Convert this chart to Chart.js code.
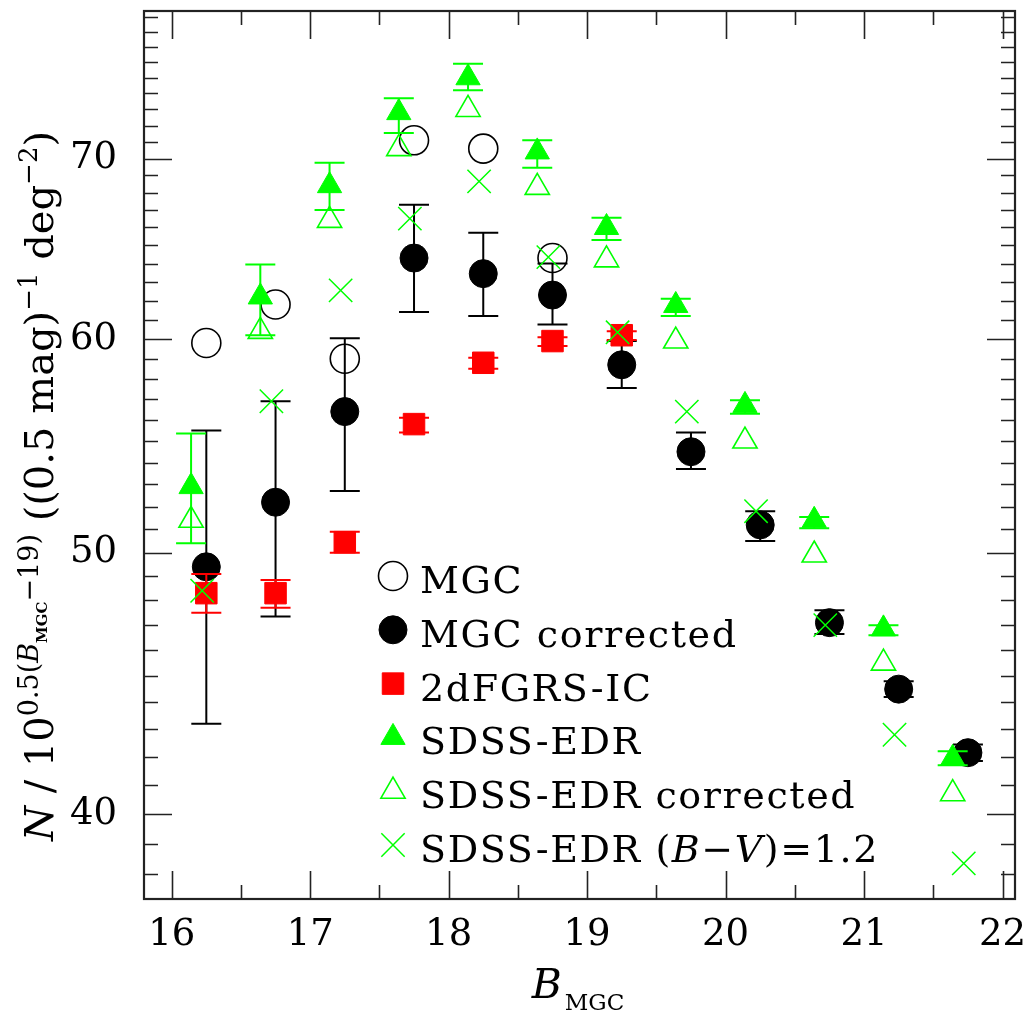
<!DOCTYPE html>
<html>
<head>
<meta charset="utf-8">
<title>Galaxy number counts</title>
<style>
  html, body { margin: 0; padding: 0; background: #fff; }
  canvas { display: block; }
</style>
<script src="https://cdn.jsdelivr.net/npm/chart.js@4.4.1/dist/chart.umd.min.js"></script>
</head>
<body>
<canvas id="counts" width="1030" height="1013"></canvas>
<script>
// ---- data: counts N / 10^{0.5(B-19)} per 0.5 mag bin per deg^2 ----
// bin centres (each survey drawn with a small horizontal offset)
const magMGC  = [16.25, 16.75, 17.25, 17.75, 18.25, 18.75, 19.25, 19.75, 20.25, 20.75, 21.25, 21.75];
const magSDSS = [16.14, 16.64, 17.14, 17.64, 18.14, 18.64, 19.14, 19.64, 20.14, 20.64, 21.14, 21.64];
const magBV   = [16.22, 16.72, 17.22, 17.72, 18.22, 18.72, 19.22, 19.72, 20.22, 20.72, 21.22, 21.72];
const mag2dF  = [16.25, 16.75, 17.25, 17.75, 18.25, 18.75, 19.25];

// MGC, raw counts (bright bins only; fainter bins coincide with the corrected counts)
const mgcRaw = [59.8, 61.8, 59.0, 71.1, 70.6, 64.3];

// MGC corrected, with error range
const mgcCorr   = [49.4, 52.2, 56.4, 64.3, 63.45, 62.3, 58.7, 54.5, 51.2, 47.1, 44.5, 42.15];
const mgcCorrLo = [43.2, 47.35, 52.7, 61.4, 61.2, 60.75, 57.55, 53.7, 50.5, 46.65, 44.2, 41.85];
const mgcCorrHi = [55.5, 56.9, 60.05, 67.3, 65.7, 64.0, 59.9, 55.4, 51.8, 47.6, 44.8, 42.45];

// 2dFGRS input catalogue
const twoDF   = [48.3, 48.3, 50.45, 55.8, 58.8, 59.9, 60.2];
const twoDFLo = [47.5, 47.7, 50.0, 55.4, 58.5, 59.65, 59.95];
const twoDFHi = [49.1, 48.85, 50.9, 56.1, 59.05, 60.1, 60.4];

// SDSS-EDR, with error range
const sdss   = [52.9, 62.2, 68.4, 72.8, 75.0, 70.4, 66.0, 61.75, 56.7, 51.4, 46.85, 41.95];
const sdssLo = [50.4, 60.2, 67.0, 71.55, 74.2, 69.45, 65.3, 61.2, 56.3, 51.05, 46.6, 41.7];
const sdssHi = [55.35, 63.95, 69.75, 73.7, 75.9, 71.1, 66.55, 62.1, 56.95, 51.55, 47.0, 42.2];

// SDSS-EDR corrected
const sdssCorr = [51.4, 60.4, 66.4, 70.6, 73.0, 68.3, 64.2, 59.9, 55.0, 49.9, 45.5, 40.7];

// SDSS-EDR with (B-V) = 1.2
const sdssBV = [48.4, 56.9, 62.55, 66.5, 68.65, 64.35, 60.35, 56.4, 51.8, 47.0, 42.8, 38.35];

// axis ticks
const xTickLabels = [16, 17, 18, 19, 20, 21, 22];
const xMinorTicks = [16.5, 17.5, 18.5, 19.5, 20.5, 21.5];
const yTickLabels = [40, 50, 60, 70];

const SERIF = '"DejaVu Serif", "Liberation Serif", serif';
const GREEN = '#00ff00';
const RED = '#ff0000';
const BLACK = '#000000';

const pts = (xs, ys) => ys.map((v, i) => ({ x: xs[i], y: v }));

const datasets = [
  { label: 'MGC', data: pts(magMGC, mgcRaw), pointStyle: 'circle', pointRadius: 14.5,
    backgroundColor: 'rgba(0,0,0,0)', borderColor: BLACK, borderWidth: 1.6, order: 5 },
  { label: 'MGC corrected', data: pts(magMGC, mgcCorr), pointStyle: 'circle', pointRadius: 14,
    backgroundColor: BLACK, borderColor: BLACK, borderWidth: 1, order: 4,
    errLo: mgcCorrLo, errHi: mgcCorrHi },
  { label: '2dFGRS-IC', data: pts(mag2dF, twoDF), pointStyle: 'rect', pointRadius: 15.2,
    backgroundColor: RED, borderColor: RED, borderWidth: 1, order: 3,
    errLo: twoDFLo, errHi: twoDFHi },
  { label: 'SDSS-EDR', data: pts(magSDSS, sdss), pointStyle: 'triangle', pointRadius: 14,
    backgroundColor: GREEN, borderColor: GREEN, borderWidth: 1, order: 2,
    errLo: sdssLo, errHi: sdssHi },
  { label: 'SDSS-EDR corrected', data: pts(magSDSS, sdssCorr), pointStyle: 'triangle', pointRadius: 14,
    backgroundColor: 'rgba(0,0,0,0)', borderColor: GREEN, borderWidth: 1.6, order: 1 },
  { label: 'SDSS-EDR (B-V)=1.2', data: pts(magBV, sdssBV), pointStyle: 'crossRot', pointRadius: 16.5,
    backgroundColor: GREEN, borderColor: GREEN, borderWidth: 1.5, order: 0 }
];

// vertical error bars with caps, drawn just beneath their own markers
const errorBars = {
  id: 'errorBars',
  beforeDatasetDraw(chart, args) {
    const ds = chart.data.datasets[args.index];
    if (!ds.errLo) return;
    const { ctx, scales: { x, y } } = chart;
    const cap = 15;
    ctx.save();
    ctx.strokeStyle = ds.borderColor;
    ctx.lineWidth = 2;
    ds.data.forEach((p, i) => {
      const px = x.getPixelForValue(p.x);
      const yl = y.getPixelForValue(ds.errLo[i]);
      const yh = y.getPixelForValue(ds.errHi[i]);
      ctx.beginPath();
      ctx.moveTo(px, yl); ctx.lineTo(px, yh);
      ctx.moveTo(px - cap, yl); ctx.lineTo(px + cap, yl);
      ctx.moveTo(px - cap, yh); ctx.lineTo(px + cap, yh);
      ctx.stroke();
    });
    ctx.restore();
  }
};

// box frame with inward major/minor ticks on all four sides
const frameTicks = {
  id: 'frameTicks',
  afterDatasetsDraw(chart) {
    const { ctx, chartArea: a, scales: { x, y } } = chart;
    const major = 28, minor = 14;
    ctx.save();
    ctx.strokeStyle = '#222';
    ctx.lineWidth = 1.6;
    ctx.beginPath();
    const vTick = (v, len) => {
      const px = Math.round(x.getPixelForValue(v)) + 0.5;
      ctx.moveTo(px, a.bottom); ctx.lineTo(px, a.bottom - len);
      ctx.moveTo(px, a.top); ctx.lineTo(px, a.top + len);
    };
    const hTick = (v, len) => {
      const py = Math.round(y.getPixelForValue(v)) + 0.5;
      ctx.moveTo(a.left, py); ctx.lineTo(a.left + len, py);
      ctx.moveTo(a.right, py); ctx.lineTo(a.right - len, py);
    };
    xTickLabels.forEach(v => vTick(v, major));
    xMinorTicks.forEach(v => vTick(v, minor));
    for (let v = Math.ceil(y.min); v <= Math.floor(y.max); v++) {
      hTick(v, yTickLabels.includes(v) ? major : minor);
    }
    ctx.stroke();
    ctx.lineWidth = 2.2;
    ctx.strokeRect(a.left, a.top, a.right - a.left, a.bottom - a.top);
    ctx.restore();
  }
};

// draw a run of text pieces (size, italic, bold, baseline shift) along the current x direction
function drawRuns(ctx, runs, x0, y0) {
  let u = x0;
  runs.forEach(r => {
    ctx.font = (r.it ? 'italic ' : '') + (r.b ? 'bold ' : '') + r.s + 'px ' + SERIF;
    ctx.fillText(r.t, u, y0 + (r.dy || 0));
    u += ctx.measureText(r.t).width + (r.gap || 0);
  });
  return u - x0;
}
function runsWidth(ctx, runs) {
  let w = 0;
  runs.forEach(r => {
    ctx.font = (r.it ? 'italic ' : '') + (r.b ? 'bold ' : '') + r.s + 'px ' + SERIF;
    w += ctx.measureText(r.t).width + (r.gap || 0);
  });
  return w;
}

const yTitleRuns = [
  { t: 'N', s: 40, it: true },
  { t: ' / ', s: 40 },
  { t: '10', s: 40 },
  { t: '0.5(', s: 27, dy: -15 },
  { t: 'B', s: 27, it: true, dy: -15 },
  { t: 'MGC', s: 15, b: true, dy: -6 },
  { t: '\u221219)', s: 27, dy: -15 },
  { t: ' ((0.5 mag)', s: 40 },
  { t: '\u22121', s: 26, dy: -16 },
  { t: ' deg', s: 40 },
  { t: '\u22122', s: 26, dy: -16 },
  { t: ')', s: 40 }
];
const xTitleRuns = [
  { t: 'B', s: 41, it: true, gap: 3 },
  { t: 'MGC', s: 23, dy: 12 }
];

const axisTitles = {
  id: 'axisTitles',
  afterDraw(chart) {
    const { ctx } = chart;
    ctx.save();
    ctx.fillStyle = '#000';
    ctx.textBaseline = 'alphabetic';
    ctx.textAlign = 'left';
    // x title
    const wx = runsWidth(ctx, xTitleRuns);
    drawRuns(ctx, xTitleRuns, 578 - wx / 2, 998);
    // y title, reading upwards
    const wy = runsWidth(ctx, yTitleRuns);
    ctx.translate(53, 486 + wy / 2);
    ctx.rotate(-Math.PI / 2);
    drawRuns(ctx, yTitleRuns, 0, 0);
    ctx.restore();
  }
};

// marker shapes for the key, matching the dataset point styles
function drawMarker(ctx, ds, cx, cy) {
  const r = ds.pointRadius;
  ctx.save();
  ctx.lineWidth = ds.borderWidth;
  ctx.strokeStyle = ds.borderColor;
  ctx.fillStyle = ds.backgroundColor;
  ctx.beginPath();
  if (ds.pointStyle === 'circle') {
    ctx.arc(cx, cy, r, 0, Math.PI * 2);
    ctx.fill(); ctx.stroke();
  } else if (ds.pointStyle === 'rect') {
    const h = r * Math.SQRT1_2;
    ctx.rect(cx - h, cy - h, 2 * h, 2 * h);
    ctx.fill(); ctx.stroke();
  } else if (ds.pointStyle === 'triangle') {
    for (let k = 0; k < 3; k++) {
      const ang = k * 2 * Math.PI / 3;
      const px = cx + Math.sin(ang) * r, py = cy - Math.cos(ang) * r;
      if (k === 0) ctx.moveTo(px, py); else ctx.lineTo(px, py);
    }
    ctx.closePath();
    ctx.fill(); ctx.stroke();
  } else if (ds.pointStyle === 'crossRot') {
    const o = r * Math.SQRT1_2;
    ctx.moveTo(cx - o, cy - o); ctx.lineTo(cx + o, cy + o);
    ctx.moveTo(cx - o, cy + o); ctx.lineTo(cx + o, cy - o);
    ctx.stroke();
  }
  ctx.restore();
}

const keyLabels = [
  [{ t: 'MGC', s: 38 }],
  [{ t: 'MGC corrected', s: 38 }],
  [{ t: '2dFGRS-IC', s: 38 }],
  [{ t: 'SDSS-EDR', s: 38 }],
  [{ t: 'SDSS-EDR corrected', s: 38 }],
  [{ t: 'SDSS-EDR (', s: 38 }, { t: 'B', s: 38, it: true }, { t: '\u2212', s: 38 },
   { t: 'V', s: 38, it: true }, { t: ')=1.2', s: 38 }]
];

const keyBox = {
  id: 'keyBox',
  afterDraw(chart) {
    const { ctx } = chart;
    const symX = 393, textX = 420, top = 576, step = 53.8;
    ctx.save();
    ctx.fillStyle = '#000';
    ctx.textAlign = 'left';
    ctx.textBaseline = 'alphabetic';
    try { ctx.letterSpacing = '1.6px'; } catch (e) {}
    chart.data.datasets.forEach((ds, i) => {
      const cy = top + i * step;
      drawMarker(ctx, ds, symX, cy);
      ctx.fillStyle = '#000';
      drawRuns(ctx, keyLabels[i], textX, cy + 17);
    });
    ctx.restore();
  }
};

const tickFont = { family: SERIF, size: 37 };

new Chart(document.getElementById('counts'), {
  type: 'scatter',
  data: { datasets },
  options: {
    responsive: false,
    animation: false,
    devicePixelRatio: 1,
    layout: { autoPadding: false, padding: { left: 0, right: 15, top: 11, bottom: 0 } },
    plugins: { legend: { display: false }, tooltip: { enabled: false } },
    elements: { point: { hoverRadius: 14 } },
    scales: {
      x: {
        type: 'linear', position: 'bottom', min: 15.8, max: 22.09,
        grid: { display: false, drawTicks: false }, border: { display: false },
        ticks: { font: tickFont, color: '#000', padding: 14, maxRotation: 0, autoSkip: false,
                 callback: v => String(v) },
        afterBuildTicks: s => { s.ticks = xTickLabels.map(v => ({ value: v })); },
        afterFit: s => { s.height = 114; s.paddingLeft = 0; s.paddingRight = 0; }
      },
      y: {
        type: 'logarithmic', position: 'left', min: 37.2, max: 79.4,
        grid: { display: false, drawTicks: false }, border: { display: false },
        ticks: { font: tickFont, color: '#000', padding: 27, autoSkip: false,
                 callback: v => String(v) },
        afterBuildTicks: s => { s.ticks = yTickLabels.map(v => ({ value: v })); },
        afterFit: s => { s.width = 144; s.paddingTop = 0; s.paddingBottom = 0; }
      }
    }
  },
  plugins: [errorBars, frameTicks, axisTitles, keyBox]
});
</script>
</body>
</html>
